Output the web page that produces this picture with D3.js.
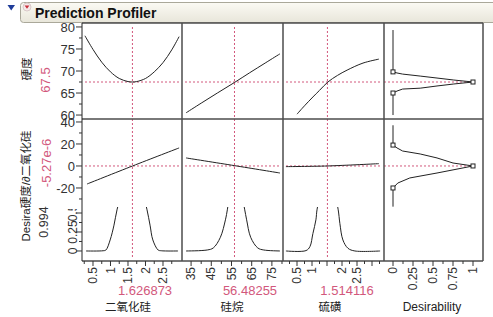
<!DOCTYPE html>
<html>
<head>
<meta charset="utf-8">
<script src="https://cdn.jsdelivr.net/npm/d3@7"></script>
<style>
  body { margin: 0; background: #fff; }
  svg { display: block; }
</style>
</head>
<body>
<div class="profiler"></div>
<script>
// factors (columns) and current settings
const factorNames = ["二氧化硅", "硅烷", "硫磺", "Desirability"];
const factorCurrent = [1.626873, 56.48255, 1.514116];
const factorCurrentText = ["1.626873", "56.48255", "1.514116"];

// responses (rows) and current predictions
const hardnessCurrent = 67.5;
const derivCurrent = -5.27e-6;
const desirCurrent = 0.994;

// tick labels
const silicaTicks = [0.5, 1, 1.5, 2, 2.5];
const silaneTicks = [35, 45, 55, 65, 75];
const sulfurTicks = [0.5, 1, 2, 2.5];
const desirTicks = [0, 0.25, 0.5, 0.75, 1];
const hardnessTicks = [60, 65, 70, 75, 80];
const derivTicks = [-20, 0, 20, 40];
const desirRowTicks = [0, 0.25, 0.5];

// 硬度 profile traces
const hardnessBySilica = [[0.27, 78.0], [0.5, 74.9], [0.75, 72.0], [1.0, 69.8], [1.25, 68.3], [1.5, 67.6], [1.63, 67.5], [1.75, 67.6], [2.0, 68.3], [2.25, 69.8], [2.5, 71.9], [2.75, 74.8], [2.96, 77.8]];
const hardnessBySilane = [[32.5, 60.5], [40, 62.7], [48, 65.0], [56.5, 67.4], [64, 69.6], [72, 71.9], [79, 73.9]];
const hardnessBySulfur = [[0.5, 60.2], [0.75, 62.1], [1.03, 64.1], [1.25, 65.6], [1.53, 67.5], [1.85, 69.0], [2.17, 70.2], [2.7, 71.8], [3.23, 72.7]];

// ∂硬度/∂二氧化硅 profile traces
const derivBySilica = [[0.33, -16.4], [1.63, 0], [2.96, 16.4]];
const derivBySilane = [[32.5, 7.3], [56.5, 0.3], [79, -6.4]];
const derivBySulfur = [[0.13, -0.6], [1.51, 0], [3.23, 2.1]];

// desirability profile traces
const desirBySilica = [[0.3, 0], [0.79, 0.003], [0.87, 0.013], [0.99, 0.145], [1.1, 0.34], [1.19, 0.55], [1.35, 0.8], [1.5, 0.96], [1.63, 0.994], [1.75, 0.96], [1.9, 0.8], [2.04, 0.55], [2.13, 0.34], [2.21, 0.145], [2.36, 0.013], [2.45, 0.003], [2.93, 0]];
const desirBySilane = [[32.5, 0], [43, 0.013], [46, 0.04], [49.5, 0.18], [52, 0.41], [53, 0.55], [54.5, 0.8], [56.5, 0.994], [58.5, 0.9], [60, 0.75], [61.5, 0.55], [62.5, 0.41], [64.5, 0.18], [68, 0.04], [71, 0.013], [79, 0]];
const desirBySulfur = [[0.13, 0], [0.8, 0.005], [0.93, 0.057], [1.03, 0.23], [1.13, 0.41], [1.17, 0.55], [1.35, 0.85], [1.51, 0.994], [1.7, 0.85], [1.87, 0.55], [1.93, 0.36], [2.03, 0.145], [2.2, 0.035], [2.43, 0], [3.27, 0]];

// desirability functions: [response value, desirability]
const hardnessDesirFn = [[79.3, 0], [69.8, 0], [69.55, 0.05], [69.3, 0.12], [68.85, 0.34], [68.4, 0.55], [67.95, 0.76], [67.5, 1], [67.05, 0.76], [66.6, 0.55], [66.1, 0.34], [65.9, 0.12], [65.45, 0.05], [65, 0], [60, 0]];
const hardnessDesirKnots = [[69.8, 0], [67.5, 1], [65, 0]];
const derivDesirFn = [[37, 0], [19, 0], [16.4, 0.05], [13.6, 0.12], [10.9, 0.34], [7.3, 0.55], [2.7, 0.75], [0, 1], [-6.4, 0.55], [-10.9, 0.21], [-15.5, 0.06], [-20, 0], [-37, 0]];
const derivDesirKnots = [[19, 0], [0, 1], [-20, 0]];

//layout
const cols = [[82, 182], [182, 283], [283, 384], [384, 483]];
const rows = [[23, 119], [119, 207], [207, 261]];
const colDomains = [[0.186, 3.043], [30.5, 80.5], [0.033, 3.4], [-0.1125, 1.125]];
const rowDomains = [[59.1, 80.9], [-37.3, 42.7], [-0.132, 0.579]];
const red = "#d2587c";
const frame = "#4d4d4d";
const latin = "'Liberation Sans', Arial, 'Noto Sans CJK SC', sans-serif";

const xScales = colDomains.map((d, i) => d3.scaleLinear().domain(d).range(cols[i]));
const yScales = rowDomains.map((d, i) => d3.scaleLinear().domain(d).range([rows[i][1], rows[i][0]]));

const svg = d3.select(".profiler")
    .append("svg")
    .attr("width", 493)
    .attr("height", 317)
    .style("font-family", latin);

const defs = svg.append("defs");

//title bar
const grad = defs.append("linearGradient").attr("id", "bar").attr("x1", 0).attr("x2", 0).attr("y1", 0).attr("y2", 1);
grad.append("stop").attr("offset", "0%").attr("stop-color", "#fbfaf4");
grad.append("stop").attr("offset", "100%").attr("stop-color", "#e8e6da");

svg.append("rect")
    .attr("x", 20.5).attr("y", 2.5)
    .attr("width", 480).attr("height", 20)
    .attr("rx", 3)
    .attr("fill", "url(#bar)")
    .attr("stroke", "#aaa89a");

svg.append("path")
    .attr("d", "M7.5,5 L15,5 L11.2,10.5 Z")
    .attr("fill", "#1f3c99");

svg.append("circle")
    .attr("cx", 27).attr("cy", 7).attr("r", 4)
    .attr("fill", "#f6e9e9").attr("stroke", "#d9c9c9");
svg.append("path")
    .attr("d", "M24.6,5.4 L29.4,5.4 L27,8.8 Z")
    .attr("fill", "#c8303c");

svg.append("text")
    .attr("x", 35).attr("y", 18)
    .attr("font-size", 14)
    .attr("font-weight", "bold")
    .attr("fill", "#111")
    .text("Prediction Profiler");

//clip paths for each cell
rows.forEach((r, ri) => {
    cols.forEach((c, ci) => {
        defs.append("clipPath").attr("id", `cell-${ri}-${ci}`)
            .append("rect")
            .attr("x", c[0]).attr("y", r[0])
            .attr("width", c[1] - c[0]).attr("height", r[1] - r[0]);
    });
});

const profiles = [
    [hardnessBySilica, hardnessBySilane, hardnessBySulfur],
    [derivBySilica, derivBySilane, derivBySulfur],
    [desirBySilica, desirBySilane, desirBySulfur]
];
const rowCurrent = [hardnessCurrent, derivCurrent, desirCurrent];

const smooth = d3.line().curve(d3.curveCatmullRom.alpha(0.5));
const straight = d3.line();

//factor profile cells
profiles.forEach((rowData, ri) => {
    rowData.forEach((pts, ci) => {
        const x = xScales[ci], y = yScales[ri];
        const g = svg.append("g").attr("clip-path", `url(#cell-${ri}-${ci})`);

        g.append("line")
            .attr("x1", cols[ci][0] + 3).attr("x2", cols[ci][1] - 3)
            .attr("y1", y(rowCurrent[ri])).attr("y2", y(rowCurrent[ri]))
            .attr("stroke", red).attr("stroke-dasharray", "2,2");

        g.append("line")
            .attr("x1", x(factorCurrent[ci])).attr("x2", x(factorCurrent[ci]))
            .attr("y1", rows[ri][0] + (ri === 0 ? 4 : 0)).attr("y2", rows[ri][1] - (ri === 2 ? 3 : 0))
            .attr("stroke", red).attr("stroke-dasharray", "2,2");

        g.append("path")
            .attr("d", smooth(pts.map(p => [x(p[0]), y(p[1])])))
            .attr("fill", "none")
            .attr("stroke", "#222")
            .attr("stroke-width", 1);
    });
});

//desirability function cells
[[hardnessDesirFn, hardnessDesirKnots, hardnessCurrent], [derivDesirFn, derivDesirKnots, derivCurrent]].forEach((item, ri) => {
    const x = xScales[3], y = yScales[ri];
    const g = svg.append("g");
    g.append("line")
        .attr("x1", cols[3][0]).attr("x2", x(1) - 2)
        .attr("y1", y(item[2])).attr("y2", y(item[2]))
        .attr("stroke", red).attr("stroke-dasharray", "2,2");
    g.append("path")
        .attr("d", straight(item[0].map(p => [x(p[1]), y(p[0])])))
        .attr("fill", "none")
        .attr("stroke", "#222");
    g.selectAll("rect")
        .data(item[1])
        .enter()
        .append("rect")
        .attr("x", d => x(d[1]) - 2)
        .attr("y", d => y(d[0]) - 2)
        .attr("width", 4).attr("height", 4)
        .attr("fill", "#fff")
        .attr("stroke", "#222");
});

//frame lines
const frameG = svg.append("g").attr("stroke", frame).attr("stroke-width", 1.5);
[rows[0][0], rows[0][1], rows[2][1]].forEach(yv => {
    frameG.append("line").attr("x1", cols[0][0]).attr("x2", cols[3][1]).attr("y1", yv).attr("y2", yv);
});
[cols[1][0], cols[2][0], cols[3][0], cols[3][1]].forEach(xv => {
    frameG.append("line").attr("x1", xv).attr("x2", xv).attr("y1", rows[0][0]).attr("y2", rows[2][1]);
});
svg.append("line")
    .attr("x1", cols[0][0]).attr("x2", cols[0][0])
    .attr("y1", rows[0][0]).attr("y2", rows[2][1])
    .attr("stroke", "#222");

//y axes
const yTickSets = [
    { ticks: hardnessTicks, minor: d3.range(62.5, 80, 5) },
    { ticks: derivTicks, minor: [-30, -10, 10, 30] },
    { ticks: desirRowTicks, minor: [0.125, 0.375] }
];
yTickSets.forEach((s, ri) => {
    const y = yScales[ri];
    const g = svg.append("g").attr("clip-path", ri === 2 ? "url(#rowlab)" : null);
    g.selectAll(".major").data(s.ticks).enter().append("line")
        .attr("x1", 76).attr("x2", 82)
        .attr("y1", d => y(d)).attr("y2", d => y(d))
        .attr("stroke", "#333");
    g.selectAll(".minor").data(s.minor).enter().append("line")
        .attr("x1", 79).attr("x2", 82)
        .attr("y1", d => y(d)).attr("y2", d => y(d))
        .attr("stroke", "#333");
    if (ri < 2) {
        g.selectAll("text").data(s.ticks).enter().append("text")
            .attr("x", 75).attr("y", d => y(d))
            .attr("dy", "0.35em")
            .attr("text-anchor", "end")
            .attr("font-size", 13)
            .attr("fill", "#333")
            .text(d => d);
    } else {
        g.selectAll("text").data(s.ticks).enter().append("text")
            .attr("transform", d => `translate(73,${y(d)}) rotate(-90)`)
            .attr("dy", "0.35em")
            .attr("text-anchor", "middle")
            .attr("font-size", 12)
            .attr("fill", "#333")
            .text(d => d);
    }
});
defs.append("clipPath").attr("id", "rowlab")
    .append("rect").attr("x", 0).attr("y", 209).attr("width", 83).attr("height", 60);

//x axes
const xTickSets = [
    { ticks: silicaTicks, major: silicaTicks, minor: d3.range(0.25, 3.0, 0.5) },
    { ticks: silaneTicks, major: silaneTicks, minor: d3.range(40, 81, 10) },
    { ticks: sulfurTicks, major: [0.5, 1, 1.5, 2, 2.5, 3], minor: d3.range(0.25, 3.4, 0.5) },
    { ticks: desirTicks, major: desirTicks, minor: d3.range(0.125, 1.1, 0.25) }
];
xTickSets.forEach((s, ci) => {
    const x = xScales[ci];
    const g = svg.append("g");
    g.selectAll(".major").data(s.major).enter().append("line")
        .attr("x1", d => x(d)).attr("x2", d => x(d))
        .attr("y1", 261).attr("y2", 266)
        .attr("stroke", "#333");
    g.selectAll(".minor").data(s.minor).enter().append("line")
        .attr("x1", d => x(d)).attr("x2", d => x(d))
        .attr("y1", 261).attr("y2", 264)
        .attr("stroke", "#333");
    g.selectAll("text").data(s.ticks).enter().append("text")
        .attr("transform", d => `translate(${x(d)},267) rotate(-90)`)
        .attr("dy", "0.35em")
        .attr("text-anchor", "end")
        .attr("font-size", 12)
        .attr("fill", "#333")
        .text(d => d);
});

//row labels
const rowLabels = [
    { text: "硬度", x: 27, y: 69, size: 11.5, fill: "#222" },
    { text: "67.5", x: 45, y: 80, size: 13, fill: red },
    { text: "Desira硬度/∂二氧化硅", x: 26, y: 186, size: 11.5, fill: "#222" },
    { text: "-5.27e-6", x: 46, y: 163, size: 13, fill: red },
    { text: "0.994", x: 44, y: 222, size: 12.5, fill: "#333" }
];
svg.append("g").selectAll("text")
    .data(rowLabels)
    .enter()
    .append("text")
    .attr("transform", d => `translate(${d.x},${d.y}) rotate(-90)`)
    .attr("dy", "0.35em")
    .attr("text-anchor", "middle")
    .attr("font-size", d => d.size)
    .attr("fill", d => d.fill)
    .text(d => d.text);

//column labels
const valueCenters = [145, 250, 347];
const nameCenters = [128, 232, 330, 432];
svg.append("g").selectAll("text")
    .data(factorCurrentText)
    .enter()
    .append("text")
    .attr("x", (d, i) => valueCenters[i])
    .attr("y", 295)
    .attr("text-anchor", "middle")
    .attr("font-size", 13)
    .attr("fill", red)
    .text(d => d);

svg.append("g").selectAll("text")
    .data(factorNames)
    .enter()
    .append("text")
    .attr("x", (d, i) => nameCenters[i])
    .attr("y", 311)
    .attr("text-anchor", "middle")
    .attr("font-size", (d, i) => i === 3 ? 12 : 11.5)
    .attr("fill", "#222")
    .text(d => d);
</script>
</body>
</html>
